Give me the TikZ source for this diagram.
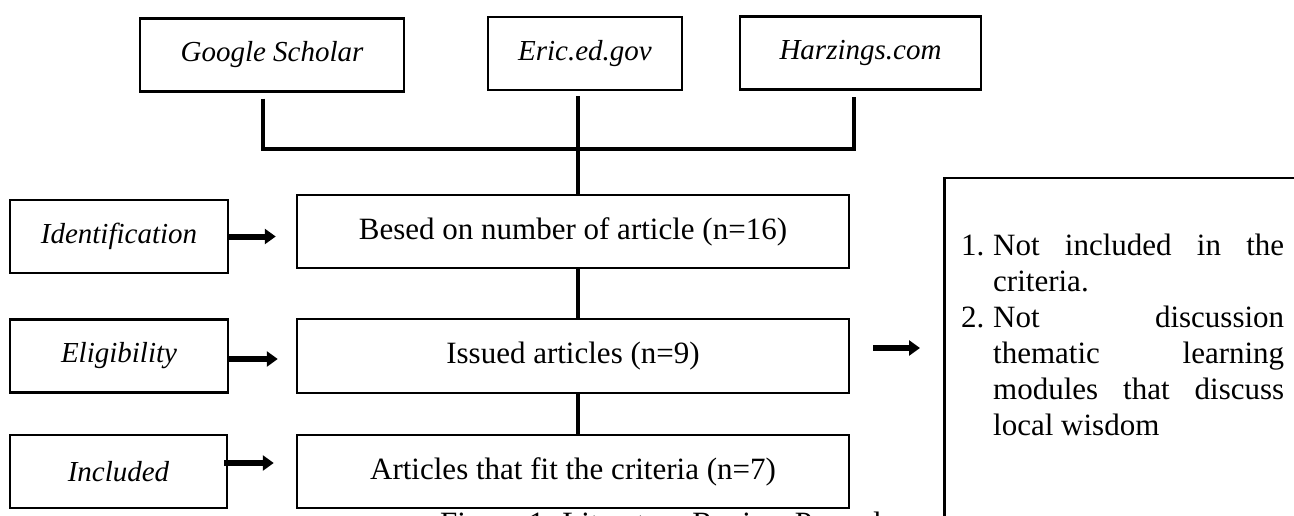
\documentclass[tikz,border=0pt]{standalone}
\usepackage{fontspec}
\setmainfont{Liberation Serif}
\usetikzlibrary{arrows.meta,positioning}

\begin{document}
\begin{tikzpicture}[
    x=1pt, y=-1pt,
    src/.style={rectangle, draw, line width=2.5pt, inner sep=0pt, minimum height=73pt, font=\fontsize{29}{34}\selectfont\itshape},
    proc/.style={rectangle, draw, line width=2.5pt, inner sep=0pt, minimum width=552pt, minimum height=73pt, font=\fontsize{31}{36}\selectfont},
    link/.style={line width=4pt},
    push/.style={-{Triangle[length=11pt,width=15pt]}, line width=6pt},
    reason/.style={text width=323pt, inner sep=0pt, align=justify, font=\fontsize{31}{36}\selectfont}
]
    \useasboundingbox (0,0) rectangle (1294,516);
    \clip (0,0) rectangle (1294,516);

    % Sources
    \node[src, minimum width=264pt] (google) at (272,55) {Google Scholar};
    \node[src, minimum width=194pt] (eric) at (585,53.5) {Eric.ed.gov};
    \node[src, minimum width=241pt] (harz) at (860.5,53) {Harzings.com};

    % Stages
    \node[src, minimum width=218pt] (ident) at (119,236.5) {Identification};
    \node[src, minimum width=218pt] (elig) at (119,356) {Eligibility};
    \node[src, minimum width=217pt] (incl) at (118.5,471.5) {Included};

    % Counts
    \node[proc] (besed) at (573,231.5) {Besed on number of article (n=16)};
    \node[proc, minimum height=74pt] (issued) at (573,356) {Issued articles (n=9)};
    \node[proc] (fit) at (573,471.5) {Articles that fit the criteria (n=7)};

    % Excluded
    \node[draw, line width=2.5pt, inner sep=0pt, minimum width=420pt, minimum height=420pt, anchor=north west] (excl) at (943,177) {};
    \node[reason, anchor=north west] (why) at (961,234) {\hyphenpenalty=10000\exhyphenpenalty=10000\tolerance=10000
        \hangindent=32pt\hangafter=1\noindent\makebox[32pt][l]{1.}Not included in the\linebreak criteria.\par
        \hangindent=32pt\hangafter=1\noindent\makebox[32pt][l]{2.}Not discussion\linebreak thematic learning\linebreak modules that discuss\linebreak local wisdom\par};

    \node[font=\fontsize{31}{36}\selectfont, anchor=base west, inner sep=0pt] (cap) at (440,533) {Figure 1. Literature Review Procedure};

    % Lines
    \coordinate (bar) at (578,149);
    \draw[link] ([xshift=-9pt,yshift=-6pt]google.south) |- (bar) -| ([xshift=-6.5pt,yshift=-6pt]harz.south);
    \draw[link] ([xshift=-7pt,yshift=-5pt]eric.south) -- ([xshift=5pt]besed.north);
    \draw[link] ([xshift=5pt]besed.south) -- ([xshift=5pt]issued.north);
    \draw[link] ([xshift=5pt]issued.south) -- ([xshift=5pt]fit.north);

    % Arrows
    \draw[push, shorten >=20pt] (ident.east) -- (ident.east -| besed.west);
    \draw[push, shorten >=18pt] ([yshift=-3pt]elig.east) -- ([yshift=-3pt]elig.east -| issued.west);
    \draw[push, shorten >=22pt] ([xshift=-4pt,yshift=8.5pt]incl.east) -- ([yshift=8.5pt]incl.east -| fit.west);
    \draw[push, shorten <=23pt, shorten >=23pt] ([yshift=8pt]issued.east) -- ([yshift=8pt]issued.east -| excl.west);
\end{tikzpicture}
\end{document}
